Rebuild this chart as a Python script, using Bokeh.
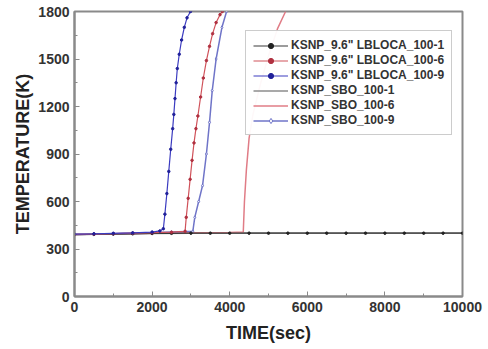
from bokeh.plotting import figure
from bokeh.models import SingleIntervalTicker, Range1d
from bokeh.embed import file_html
from bokeh.resources import INLINE

# ---- data ----
lb1_t = [0, 500, 1000, 1500, 2000, 2500, 3000, 3500, 4000, 4500, 5000, 5500, 6000,
         6500, 7000, 7500, 8000, 8500, 9000, 9500, 10000]
lb1_T = [390, 392, 394, 396, 398, 399, 400, 400, 400, 400, 400, 400, 400,
         400, 400, 400, 400, 400, 400, 400, 400]

sbo1_t = [0, 1000, 2000, 3000, 4000, 5000, 6000, 7000, 8000, 9000, 10000]
sbo1_T = [392, 395, 398, 400, 401, 401, 401, 401, 401, 401, 401]

lb9_t = [0, 500, 1000, 1500, 2000, 2200, 2290, 2330, 2380, 2430, 2480, 2530, 2560,
         2590, 2620, 2650, 2700, 2760, 2830, 2900, 2990]
lb9_T = [394, 396, 399, 402, 407, 414, 428, 520, 650, 790, 930, 1060, 1150,
         1250, 1350, 1440, 1530, 1620, 1700, 1760, 1800]

lb6_t = [0, 500, 1000, 1500, 2000, 2500, 2850, 2880, 2930, 2980, 3030, 3080, 3130,
         3180, 3250, 3320, 3400, 3480, 3560, 3650, 3750, 3810]
lb6_T = [392, 394, 397, 400, 403, 406, 412, 500, 620, 740, 860, 970, 1060,
         1140, 1260, 1380, 1490, 1580, 1660, 1730, 1780, 1800]

sbo9_t = [0, 1000, 2000, 2500, 3050, 3100, 3200, 3300, 3400, 3480, 3550, 3650, 3800, 3920]
sbo9_T = [392, 396, 402, 407, 412, 500, 600, 700, 900, 1100, 1300, 1500, 1700, 1800]

sbo6_t = [0, 1000, 2000, 3000, 4000, 4350, 4380, 4430, 4500, 4600, 4800, 5000, 5230, 5440]
sbo6_T = [392, 396, 400, 403, 405, 407, 600, 800, 1000, 1150, 1350, 1520, 1690, 1800]

x_ticks_interval = 2000
y_ticks_interval = 300

labels = ['KSNP_9.6" LBLOCA_100-1', 'KSNP_9.6" LBLOCA_100-6', 'KSNP_9.6" LBLOCA_100-9',
          'KSNP_SBO_100-1', 'KSNP_SBO_100-6', 'KSNP_SBO_100-9']

p = figure(frame_width=388, frame_height=285,
           x_range=Range1d(0, 10000), y_range=Range1d(0, 1800),
           output_backend="svg", toolbar_location=None,
           min_border_left=74, min_border_right=22, min_border_top=11, min_border_bottom=48)

p.xgrid.visible = False
p.ygrid.visible = False
p.outline_line_color = "#8a8a8a"
p.outline_line_width = 2
p.background_fill_color = "white"
p.border_fill_color = "white"

# SBO lines
p.line(sbo1_t, sbo1_T, line_color="#8c8c8c", line_width=1.5, legend_label=labels[3])
p.line(sbo6_t, sbo6_T, line_color="#e07c86", line_width=1.5, legend_label=labels[4])
p.line(sbo9_t, sbo9_T, line_color="#6f74c8", line_width=1.5, legend_label=labels[5])
p.scatter(sbo9_t, sbo9_T, marker="diamond", size=3, fill_color="white",
          line_color="#6f74c8", legend_label=labels[5])

# LBLOCA lines with markers
p.line(lb1_t, lb1_T, line_color="#3a3a3a", line_width=1.2, legend_label=labels[0])
p.scatter(lb1_t, lb1_T, marker="circle", size=2.5, fill_color="#222222",
          line_color="#222222", legend_label=labels[0])
p.line(lb6_t, lb6_T, line_color="#d0525a", line_width=1.2, legend_label=labels[1])
p.scatter(lb6_t, lb6_T, marker="circle", size=2.5, fill_color="#b03040",
          line_color="#b03040", legend_label=labels[1])
p.line(lb9_t, lb9_T, line_color="#3c3cc0", line_width=1.2, legend_label=labels[2])
p.scatter(lb9_t, lb9_T, marker="circle", size=2.5, fill_color="#20209a",
          line_color="#20209a", legend_label=labels[2])

items = p.legend.items
order = {lab: i for i, lab in enumerate(labels)}
p.legend.items = sorted(items, key=lambda it: order[it.label.value])

leg = p.legend[0]
leg.location = (171, 161)
leg.border_line_color = "#9a9a9a"
leg.border_line_width = 1.5
leg.background_fill_color = "white"
leg.label_text_font = "Liberation Sans"
leg.label_text_font_style = "bold"
leg.label_text_font_size = "12px"
leg.label_text_color = "#333333"
leg.label_height = 13
leg.glyph_height = 13
leg.glyph_width = 35
leg.spacing = 1
leg.padding = 7
leg.margin = 0
leg.label_standoff = 3

p.xaxis.ticker = SingleIntervalTicker(interval=x_ticks_interval, num_minor_ticks=2)
p.yaxis.ticker = SingleIntervalTicker(interval=y_ticks_interval, num_minor_ticks=2)

for ax in (p.xaxis[0], p.yaxis[0]):
    ax.axis_line_color = "#8a8a8a"
    ax.axis_line_width = 2
    ax.major_tick_line_color = "#8a8a8a"
    ax.minor_tick_line_color = "#8a8a8a"
    ax.major_tick_in = 5
    ax.major_tick_out = 0
    ax.minor_tick_in = 3
    ax.minor_tick_out = 0
    ax.major_label_text_font = "Liberation Sans"
    ax.major_label_text_font_style = "bold"
    ax.major_label_text_font_size = "14px"
    ax.major_label_text_color = "#333333"
    ax.major_label_standoff = 5
    ax.axis_label_text_font = "Liberation Sans"
    ax.axis_label_text_font_style = "bold"
    ax.axis_label_text_font_size = "18px"
    ax.axis_label_text_color = "#222222"

p.xaxis.axis_label = "TIME(sec)"
p.yaxis.axis_label = "TEMPERATURE(K)"
p.xaxis.axis_label_standoff = 8
p.yaxis.axis_label_standoff = 2

open("out.html", "w").write(file_html(p, INLINE))
